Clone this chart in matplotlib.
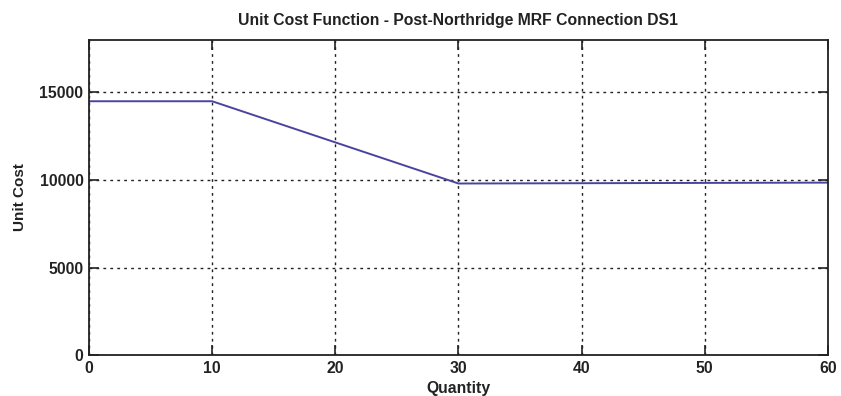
import matplotlib
matplotlib.use("Agg")
import matplotlib.pyplot as plt

# piecewise unit cost curve
quantity = [0, 10, 30, 60]
unit_cost = [14500, 14500, 9800, 9850]

x_ticks = [0, 10, 20, 30, 40, 50, 60]
y_ticks = [0, 5000, 10000, 15000]

plt.rcParams['font.family'] = ['Liberation Sans', 'DejaVu Sans']

fig = plt.figure(figsize=(8.41, 3.96), dpi=100)
ax = fig.add_axes([0.1058, 0.1035, 0.8787, 0.7955])

ax.plot(quantity, unit_cost, color='#4a44a0', linewidth=1.4)

ax.set_xlim(0, 60)
ax.set_ylim(0, 18000)
ax.set_xticks(x_ticks)
ax.set_yticks(y_ticks)
ax.grid(True, color='#222222', linestyle=(0, (2, 3)), linewidth=1.0)

ax.tick_params(direction='in', top=True, right=True, length=7, width=1.2,
               labelsize=11.3, pad=4, colors='#222222')
for lbl in ax.get_xticklabels() + ax.get_yticklabels():
    lbl.set_fontweight('bold')
for sp in ax.spines.values():
    sp.set_linewidth(1.3)
    sp.set_color('#222222')

ax.set_title('Unit Cost Function - Post-Northridge MRF Connection DS1',
             fontsize=11.3, fontweight='bold', color='#222222', pad=11)
ax.set_xlabel('Quantity', fontsize=11.3, fontweight='bold', color='#222222', labelpad=4)
ax.set_ylabel('Unit Cost', fontsize=11, fontweight='bold', color='#222222', labelpad=9)

fig.savefig('out.png', dpi=100)
